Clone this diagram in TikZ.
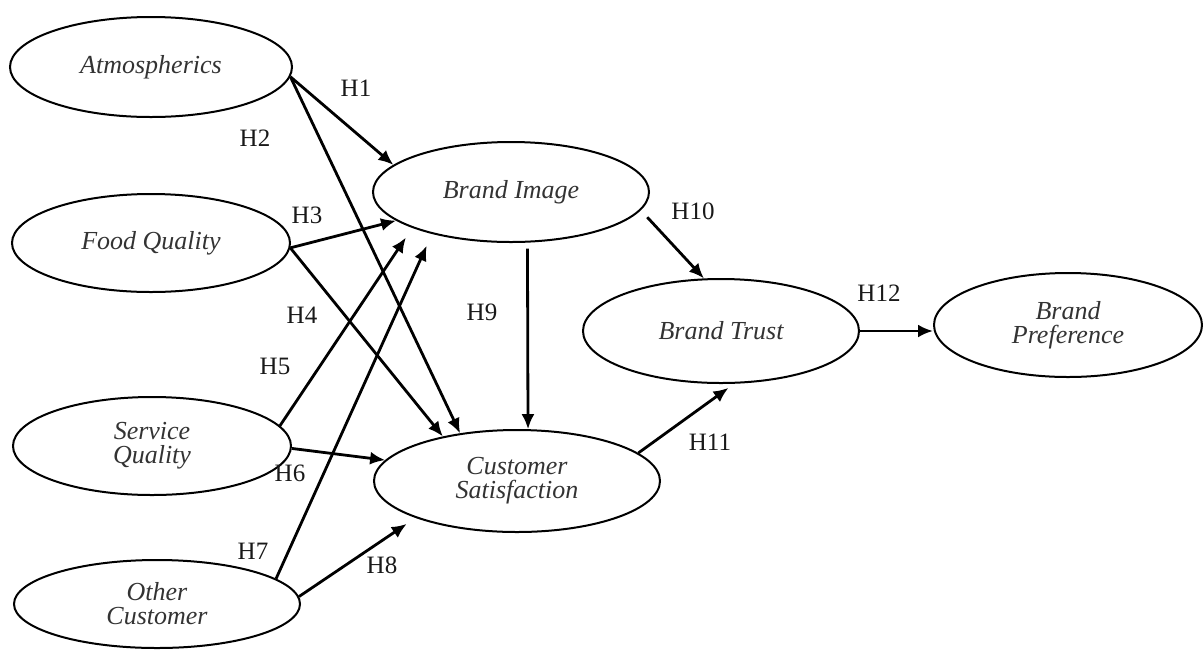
\documentclass[tikz,border=0pt]{standalone}
\usepackage{fontspec}
\setmainfont{Liberation Serif}
\usetikzlibrary{arrows.meta,shapes.geometric}
\begin{document}
\begin{tikzpicture}[x=1pt,y=-1pt,
  construct/.style={ellipse,draw,line width=2pt,inner sep=0pt,align=center,
    font=\fontsize{26}{24}\selectfont\itshape,text=black!80},
  hyp/.style={line width=2.8pt,-{Latex[length=15pt,width=13pt]}},
  hlabel/.style={font=\fontsize{25}{25}\selectfont,inner sep=0pt,text=black!90}]
\useasboundingbox (0,0) rectangle (1203,649);

% constructs
\node[construct,minimum width=282pt,minimum height=100pt] (atm) at (151,67) {Atmospherics};
\node[construct,minimum width=278pt,minimum height=98pt] (food) at (151,243) {Food Quality};
\node[construct,minimum width=278pt,minimum height=98pt] (sq) at (152,446) {Service\\Quality};
\node[construct,minimum width=286pt,minimum height=88pt] (oc) at (157,604) {Other\\Customer};
\node[construct,minimum width=276pt,minimum height=100pt] (bi) at (511,192) {Brand Image};
\node[construct,minimum width=286pt,minimum height=102pt] (cs) at (517,481) {Customer\\Satisfaction};
\node[construct,minimum width=276pt,minimum height=104pt] (bt) at (721,331) {Brand Trust};
\node[construct,minimum width=268pt,minimum height=104pt] (bp) at (1068,325) {Brand\\Preference};

% hypotheses
\draw[hyp] (atm.-4) -- (bi.167);
\draw[hyp] (atm.-4) -- (cs.140);
\draw[hyp] (food.-2) -- (bi.-166);
\draw[hyp] (food.-2) -- (cs.149);
\draw[hyp,shorten >=11.6pt] (sq.9) -- (bi.-160);
\draw[hyp] (sq.-1) -- (cs.171);
\draw[hyp,shorten >=12.9pt] (oc.12.6) -- (bi.-152);
\draw[hyp,shorten >=10.7pt] (oc.3.5) -- (cs.-160.4);
\draw[hyp,shorten <=6pt] (bi.-72.2) -- (cs.78.9);
\draw[hyp,shorten <=9.5pt] (bi.-8.6) -- (bt.108.4);
\draw[hyp,shorten >=7pt] (cs.13) -- (bt.-76.2);
\draw[hyp] (bt.east) -- (bt.east -| bp.west);

% labels
\node[hlabel] (h1) at (356,88) {H1};
\node[hlabel] (h2) at (255,138) {H2};
\node[hlabel] (h3) at (307,215) {H3};
\node[hlabel] (h4) at (302,315) {H4};
\node[hlabel] (h5) at (275,366) {H5};
\node[hlabel] (h6) at (290,473) {H6};
\node[hlabel] (h7) at (253,551) {H7};
\node[hlabel] (h8) at (382,565) {H8};
\node[hlabel] (h9) at (482,312) {H9};
\node[hlabel] (h10) at (693,211) {H10};
\node[hlabel] (h11) at (710,442) {H11};
\node[hlabel] (h12) at (879,293) {H12};
\end{tikzpicture}
\end{document}
